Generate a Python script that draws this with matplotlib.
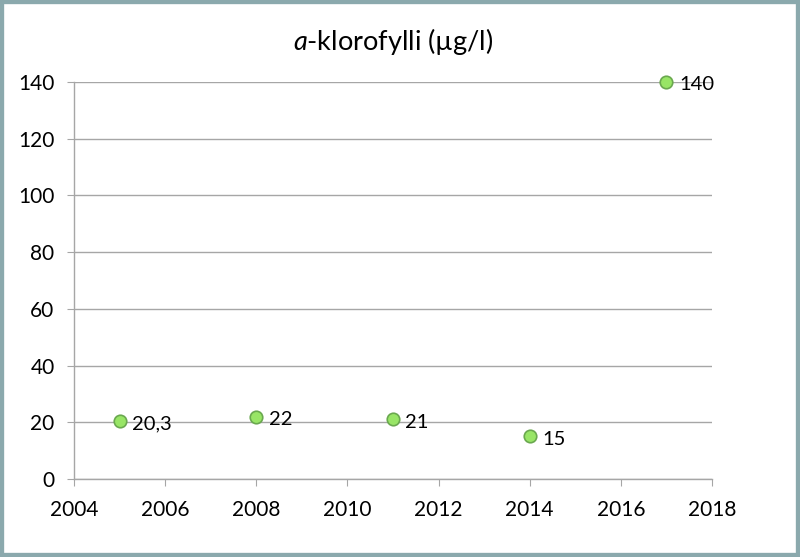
import matplotlib
matplotlib.use("Agg")
import matplotlib.pyplot as plt
from matplotlib.patches import Rectangle

years = [2005, 2008, 2011, 2014, 2017]
values = [20.3, 22, 21, 15, 140]
labels = ["20,3", "22", "21", "15", "140"]
xticks = [2004, 2006, 2008, 2010, 2012, 2014, 2016, 2018]
yticks = [0, 20, 40, 60, 80, 100, 120, 140]

plt.rcParams['font.family'] = ['Lato', 'DejaVu Sans']
plt.rcParams['mathtext.fontset'] = 'custom'
plt.rcParams['mathtext.it'] = 'Lato:italic'

fig = plt.figure(figsize=(8, 5.57), dpi=100)
ax = fig.add_axes([74/800, 1-479/557, (712-74)/800, (479-82)/557])

grid_c = '#A6A6A6'
ax.set_xlim(2004, 2018)
ax.set_ylim(0, 140)
ax.set_xticks(xticks)
ax.set_yticks(yticks)
ax.yaxis.grid(True, color=grid_c, linewidth=1)
ax.set_axisbelow(True)
for s in ['top', 'right']:
    ax.spines[s].set_visible(False)
for s in ['left', 'bottom']:
    ax.spines[s].set_color(grid_c)
    ax.spines[s].set_linewidth(1)
ax.tick_params(axis='both', direction='out', length=5, color=grid_c, labelsize=15, labelcolor='black')
ax.tick_params(axis='x', pad=10)
ax.tick_params(axis='y', pad=9)

ax.plot(years, values, linestyle='none', marker='o', markersize=9,
        markerfacecolor='#98E566', markeredgecolor='#6AA84F', markeredgewidth=1.2, clip_on=False, zorder=3)
for x, y, t in zip(years, values, labels):
    ax.annotate(t, (x, y), xytext=(9, -2), textcoords='offset points',
                ha='left', va='center', fontsize=14.5, color='black')

ax.set_title(r'$\mathit{a}$-klorofylli (µg/l)', fontsize=19.5, pad=23)

fig.patches.append(Rectangle((0, 0), 1, 1, transform=fig.transFigure, fill=False,
                             edgecolor='#8BA9AD', linewidth=6, zorder=10))

fig.savefig('out.png', dpi=100)
